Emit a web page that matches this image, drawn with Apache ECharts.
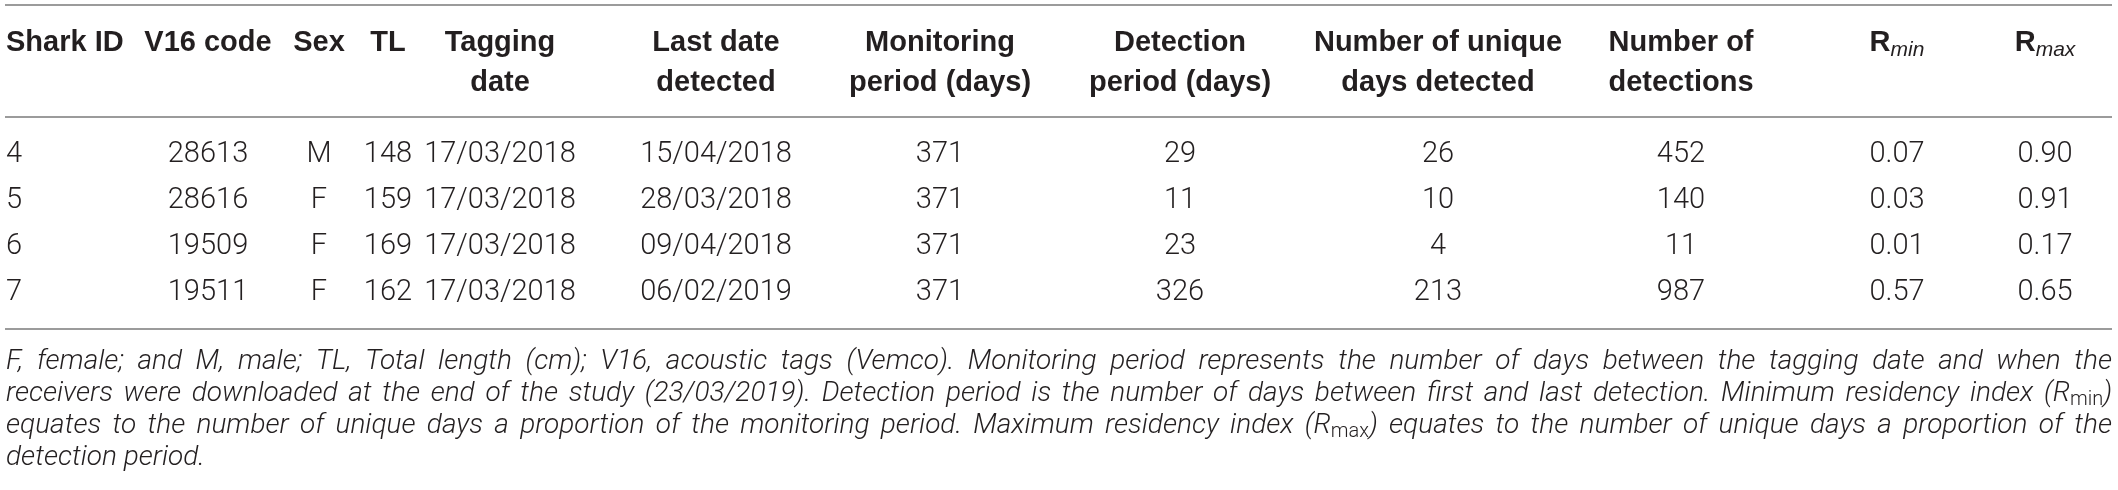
<!DOCTYPE html>
<html>
<head>
<meta charset="utf-8">
<script src="https://cdn.jsdelivr.net/npm/echarts@6/dist/echarts.min.js"></script>
<style>
  html, body { margin: 0; padding: 0; background: #fff; }
  #chart { width: 2118px; height: 490px; }
</style>
</head>
<body>
<div id="chart"></div>
<script>
// table values
const sharkIds = ['4', '5', '6', '7'];
const v16Codes = ['28613', '28616', '19509', '19511'];
const sexes = ['M', 'F', 'F', 'F'];
const totalLengths = ['148', '159', '169', '162'];
const taggingDates = ['17/03/2018', '17/03/2018', '17/03/2018', '17/03/2018'];
const lastDates = ['15/04/2018', '28/03/2018', '09/04/2018', '06/02/2019'];
const monitoringDays = ['371', '371', '371', '371'];
const detectionDays = ['29', '11', '23', '326'];
const uniqueDays = ['26', '10', '4', '213'];
const detectionCounts = ['452', '140', '11', '987'];
const rMin = ['0.07', '0.03', '0.01', '0.57'];
const rMax = ['0.90', '0.91', '0.17', '0.65'];

const headers = [
  ['Shark ID'], ['V16 code'], ['Sex'], ['TL'], ['Tagging', 'date'],
  ['Last date', 'detected'], ['Monitoring', 'period (days)'],
  ['Detection', 'period (days)'], ['Number of unique', 'days detected'],
  ['Number of', 'detections'], ['R_min'], ['R_max']
];

const footnote = [
  'F, female; and M, male; TL, Total length (cm); V16, acoustic tags (Vemco). Monitoring period represents the number of days between the tagging date and when the',
  'receivers were downloaded at the end of the study (23/03/2019). Detection period is the number of days between first and last detection. Minimum residency index (R_min)',
  'equates to the number of unique days a proportion of the monitoring period. Maximum residency index (R_max) equates to the number of unique days a proportion of the',
  'detection period.'
];

const columns = [sharkIds, v16Codes, sexes, totalLengths, taggingDates, lastDates,
  monitoringDays, detectionDays, uniqueDays, detectionCounts, rMin, rMax];

// layout
const W = 2118;
const colX = [6, 208, 319, 388, 500, 716, 940, 1180, 1438, 1681, 1897, 2045];
const lineLeft = 5, lineRight = 2112;
const ink = '#231f20';
const bodyFont = 'Roboto';
const headFont = 'Liberation Sans';
const noteSize = 28;

const chart = echarts.init(document.getElementById('chart'), null, { renderer: 'canvas' });

const cells = [];
columns.forEach((col, c) => {
  col.forEach((txt, r) => {
    cells.push({ name: txt, value: [colX[c], r, c] });
  });
});

const graphics = [];
[5, 117, 329].forEach(y => {
  graphics.push({
    type: 'line', silent: true,
    shape: { x1: lineLeft, y1: y, x2: lineRight, y2: y },
    style: { stroke: '#7a7a7a', lineWidth: 1.5 }
  });
});

const headRich = {
  h: { fontFamily: headFont, fontWeight: 'bold', fontSize: 29, color: ink, lineHeight: 36, verticalAlign: 'middle' },
  sub: { fontFamily: headFont, fontStyle: 'italic', fontSize: 21, color: ink, lineHeight: 20, verticalAlign: 'bottom' }
};
headers.forEach((lines, c) => {
  lines.forEach((t, i) => {
    let text = t;
    let rich;
    if (t.indexOf('R_') === 0) {
      text = '{h|R}{sub|' + t.slice(2) + '}';
      rich = headRich;
    }
    graphics.push({
      type: 'text', silent: true,
      x: colX[c], y: 43 + i * 40,
      style: {
        text: text, rich: rich,
        fontFamily: headFont, fontWeight: 'bold', fontSize: 29, fill: ink,
        textAlign: c === 0 ? 'left' : 'center', textVerticalAlign: 'middle'
      }
    });
  });
});

// justified footnote, word by word
const ctx = document.createElement('canvas').getContext('2d');
function measure(font, s) { ctx.font = font; return ctx.measureText(s).width; }
const noteFont = 'italic 300 ' + noteSize + 'px ' + bodyFont;
const subFont = '300 ' + Math.round(noteSize * 0.72) + 'px ' + bodyFont;
const noteRich = {
  n: { fontFamily: bodyFont, fontStyle: 'italic', fontWeight: 300, fontSize: noteSize, color: ink, lineHeight: 32, verticalAlign: 'middle' },
  s: { fontFamily: bodyFont, fontWeight: 300, fontSize: Math.round(noteSize * 0.72), color: ink, lineHeight: 18, verticalAlign: 'bottom' }
};
function wordInfo(w) {
  const m = w.match(/^(.*R)_(min|max)(.*)$/);
  if (!m) return { text: w, width: measure(noteFont, w) };
  return {
    text: '{n|' + m[1] + '}{s|' + m[2] + '}{n|' + m[3] + '}',
    rich: noteRich,
    width: measure(noteFont, m[1]) + measure(subFont, m[2]) + measure(noteFont, m[3])
  };
}
footnote.forEach((line, i) => {
  const words = line.split(' ').map(wordInfo);
  const total = words.reduce((a, w) => a + w.width, 0);
  const last = i === footnote.length - 1;
  const gap = last ? measure(noteFont, ' ') : (lineRight - 6 - total) / (words.length - 1);
  let x = 6;
  const y = 362 + i * 32;
  words.forEach(w => {
    graphics.push({
      type: 'text', silent: true, x: x, y: y,
      style: {
        text: w.text, rich: w.rich,
        fontFamily: bodyFont, fontStyle: 'italic', fontWeight: 300, fontSize: noteSize, fill: ink,
        textAlign: 'left', textVerticalAlign: 'middle'
      }
    });
    x += w.width + gap;
  });
});

chart.setOption({
  animation: false,
  grid: { left: 0, right: 0, top: 132, bottom: 174 },
  xAxis: { type: 'value', min: 0, max: W, show: false },
  yAxis: { type: 'category', data: sharkIds, inverse: true, show: false },
  series: [{
    type: 'custom',
    silent: true,
    encode: { x: 0, y: 1 },
    renderItem: function (params, api) {
      const pt = api.coord([api.value(0), api.value(1)]);
      const c = api.value(2);
      return {
        type: 'text',
        x: pt[0], y: pt[1],
        style: {
          text: cells[params.dataIndex].name,
          fontFamily: bodyFont, fontWeight: 300, fontSize: 29, fill: ink,
          textAlign: c === 0 ? 'left' : 'center', textVerticalAlign: 'middle'
        }
      };
    },
    data: cells
  }],
  graphic: graphics
});
</script>
</body>
</html>
